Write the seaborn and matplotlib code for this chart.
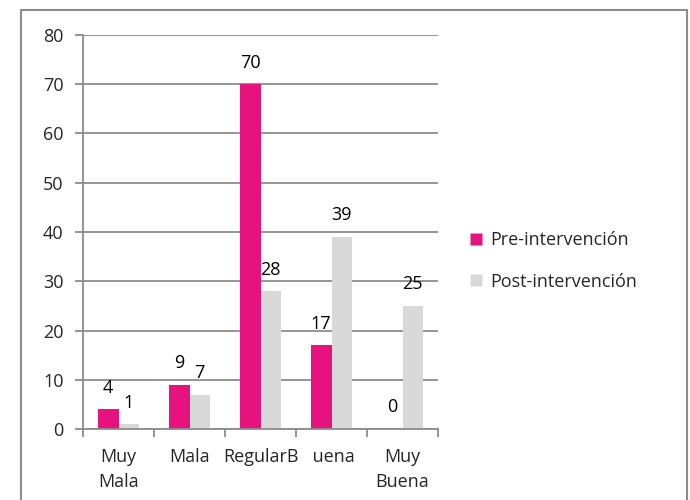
import seaborn as sns
import matplotlib.pyplot as plt
import pandas as pd
from matplotlib.lines import Line2D

# Datos
categorias = ['Muy Mala', 'Mala', 'Regular', 'Buena', 'Muy Buena']
etiquetas_x = ['Muy\nMala', 'Mala', 'RegularB', ' uena', 'Muy\nBuena']
series = ['Pre-intervención', 'Post-intervención']
pre = [4, 9, 70, 17, 0]
post = [1, 7, 28, 39, 25]

df = pd.DataFrame({
    'categoria': categorias * 2,
    'grupo': [series[0]] * len(categorias) + [series[1]] * len(categorias),
    'valor': pre + post,
})

# Estilo
sns.set_theme(style='white')
plt.rcParams['font.family'] = ['Open Sans', 'DejaVu Sans']
colores = {series[0]: '#E6137E', series[1]: '#D9D9D9'}
gris = '#8C8C8C'
fs = 13

fig = plt.figure(figsize=(6.9, 5.0), dpi=100)
ax = fig.add_axes([0.1203, 0.142, 0.5145, 0.788])

sns.barplot(data=df, x='categoria', y='valor', hue='grupo', order=categorias,
            hue_order=series, palette=colores, width=0.58, saturation=1,
            edgecolor='none', linewidth=0, ax=ax, legend=False)

for cont in ax.containers:
    ax.bar_label(cont, padding=9, fontsize=fs, color='black')

ax.set_ylim(0, 80)
ax.set_xlim(-0.5, len(categorias) - 0.5)
ax.set_yticks(range(0, 81, 10))
ax.yaxis.grid(True, color=gris, linewidth=1.3)
ax.set_axisbelow(True)
ax.set_xlabel('')
ax.set_ylabel('')
for s in ['top', 'right']:
    ax.spines[s].set_visible(False)
for s in ['left', 'bottom']:
    ax.spines[s].set_color(gris)
    ax.spines[s].set_linewidth(1.3)

ax.set_xticks(range(len(categorias)))
ax.set_xticklabels(etiquetas_x, fontsize=fs, linespacing=1.45)
ax.set_xticks([i - 0.5 for i in range(len(categorias) + 1)], minor=True)
ax.tick_params(axis='x', which='major', length=0, pad=14)
ax.tick_params(axis='x', which='minor', length=6, width=1.3, color=gris,
               direction='out', bottom=True)
ax.tick_params(axis='y', length=6, width=1.3, color=gris, direction='out',
               left=True, labelsize=fs, pad=8)

# Leyenda
handles = [Line2D([], [], marker='s', linestyle='none', markersize=9,
                  markerfacecolor=colores[s], markeredgecolor='none') for s in series]
fig.legend(handles, series, loc='center left', bbox_to_anchor=(0.666, 0.478),
           frameon=False, fontsize=fs, handletextpad=0.3, handlelength=1.0,
           labelspacing=1.3, borderaxespad=0)

# Borde del gráfico
borde = dict(color=gris, linewidth=1.5, transform=fig.transFigure)
fig.add_artist(Line2D([0.031, 0.031], [0.0, 0.981], **borde))
fig.add_artist(Line2D([0.031, 0.995], [0.981, 0.981], **borde))
fig.add_artist(Line2D([0.995, 0.995], [0.0, 0.981], **borde))

fig.savefig('out.png', dpi=100)
